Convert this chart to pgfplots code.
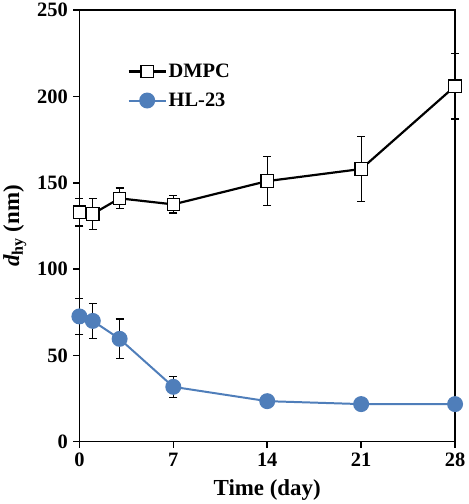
\documentclass[border=0pt]{standalone}
\usepackage{pgfplots}
\pgfplotsset{compat=1.18}
\usepackage{fontspec}
\setmainfont{Liberation Serif}
\definecolor{hlblue}{RGB}{79,126,186}
\begin{document}
\begin{tikzpicture}
\begin{axis}[
  scale only axis, width=377pt, height=433pt,
  xmin=0, xmax=28, ymin=0, ymax=250,
  xtick={0,7,14,21,28}, ytick={0,50,100,150,200,250},
  tick align=outside, tick pos=left, major tick length=6pt,
  axis line style={line width=1.5pt}, every tick/.style={line width=1.5pt, black},
  /pgf/number format/assume math mode=true,
  ticklabel style={font=\fontsize{20.5}{24}\selectfont\bfseries},
  yticklabel style={xshift=-2pt},
  xticklabel style={yshift=-2pt},
  xlabel={\textbf{Time (day)}},
  ylabel={\textbf{\textit{d}\textsubscript{hy} (nm)}},
  label style={font=\fontsize{23}{27}\selectfont},
  xlabel style={yshift=-6pt},
  ylabel style={yshift=4pt},
  clip=false,
  legend style={draw=none, fill=none, at={(0.12,0.885)}, anchor=north west,
    font=\fontsize{20.5}{24}\selectfont\bfseries, row sep=10pt,
    /tikz/every even column/.append style={column sep=3pt}},
  legend cell align=left,
  legend image code/.code={\draw[mark repeat=2,mark phase=2] plot coordinates {(0cm,0cm) (0.65cm,0cm) (1.3cm,0cm)};},
]
\addplot[black, line width=2.2pt, mark=square*, mark size=6.2pt,
  mark options={fill=white, draw=black, line width=1.1pt, solid},
  error bars/.cd, y dir=both, y explicit,
  error bar style={line width=1.1pt, black},
  error mark options={rotate=90, mark size=4pt, line width=1.1pt, black}]
  coordinates {
  (0,133) +- (0,8)
  (1,132) +- (0,9)
  (3,141) +- (0,6)
  (7,137.5) +- (0,5)
  (14,151) +- (0,14)
  (21,158) +- (0,19)
  (28,206) +- (0,19)
  };
\addlegendentry{DMPC}
\addplot[hlblue, line width=2pt, mark=*, mark size=7pt,
  mark options={fill=hlblue, draw=hlblue, solid},
  error bars/.cd, y dir=both, y explicit,
  error bar style={line width=1.1pt, black},
  error mark options={rotate=90, mark size=4pt, line width=1.1pt, black}]
  coordinates {
  (0,72.6) +- (0,10.5)
  (1,70) +- (0,10)
  (3,59.6) +- (0,11.5)
  (7,31.8) +- (0,6)
  (14,23.5) +- (0,0)
  (21,21.8) +- (0,0)
  (28,21.8) +- (0,0)
  };
\addlegendentry{HL-23}
\end{axis}
\end{tikzpicture}
\end{document}
